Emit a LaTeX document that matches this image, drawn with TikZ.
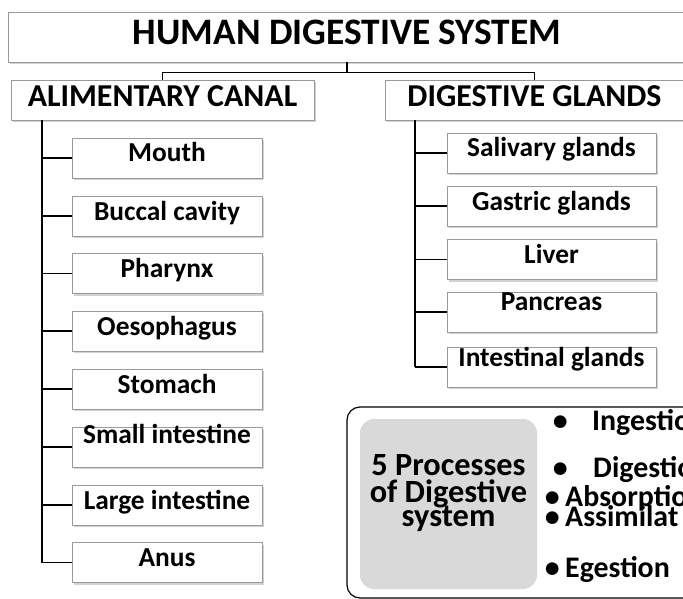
\documentclass[tikz,border=0pt]{standalone}
\usepackage{fontspec}
\setmainfont{Carlito}
\usetikzlibrary{shadows}
\definecolor{procgray}{HTML}{D9D9D9}
\definecolor{boxline}{HTML}{9A9A9A}
\begin{document}
\begin{tikzpicture}[x=1bp,y=-1bp,
  box/.style={draw=boxline, fill=white, line width=0.9bp, inner sep=0pt,
    drop shadow={shadow xshift=1.8bp, shadow yshift=-2.2bp, fill=black!35}},
  titlebox/.style={box, minimum width=678bp, minimum height=50bp,
    font=\fontsize{37.5}{40}\selectfont\bfseries, text height=24bp, text depth=8bp},
  headbox/.style={box, minimum height=40bp,
    font=\fontsize{32}{34}\selectfont\bfseries, text height=20bp, text depth=6bp},
  itembox/.style={box, minimum height=40bp,
    font=\fontsize{27.5}{30}\selectfont\bfseries, text height=18bp, text depth=10bp},
  leftitem/.style={itembox, minimum width=190bp},
  rightitem/.style={itembox, minimum width=209bp},
  conn/.style={line width=1.6bp, black},
  spine/.style={line width=2.6bp, black},
  proctext/.style={font=\fontsize{32.5}{34}\selectfont\bfseries, inner sep=0pt, anchor=base},
  bullettext/.style={font=\fontsize{30}{34}\selectfont\bfseries, inner sep=0pt, anchor=base west}
]
\useasboundingbox (0,0) rectangle (683,599);
\fill[white] (0,0) rectangle (683,599);

% title and headers
\node[titlebox] (title) at (347,37) {HUMAN DIGESTIVE SYSTEM};
\node[headbox, minimum width=303bp] (ali) at (162.5,100) {ALIMENTARY CANAL};
\node[headbox, minimum width=299bp] (dig) at (534.5,100) {DIGESTIVE GLANDS};

\draw[conn] (title.south) -- ++(0,10) coordinate (tj);
\draw[conn] (tj) -| (ali.north);
\draw[conn] (tj) -| (dig.north);

% alimentary canal items
\node[leftitem] (mouth) at (167,158) {Mouth};
\node[leftitem] (buccal) at (167,216) {Buccal cavity};
\node[leftitem] (pharynx) at (167,273.5) {Pharynx};
\node[leftitem] (oeso) at (167,331) {Oesophagus};
\node[leftitem] (stomach) at (167,389) {Stomach};
\node[leftitem] (small) at (167,447) {\raisebox{8bp}{Small intestine}};
\node[leftitem] (large) at (167,505) {Large intestine};
\node[leftitem] (anus) at (167,562.5) {Anus};

\coordinate (lv) at (42,120);
\draw[spine] (lv) -- (lv |- anus.west);
\foreach \n in {mouth,buccal,pharynx,oeso,stomach,small,large,anus}
  \draw[conn] (lv |- \n.west) -- (\n.west);

% digestive glands items
\node[rightitem] (saliv) at (551.5,153) {Salivary glands};
\node[rightitem] (gastric) at (551.5,206) {Gastric glands};
\node[rightitem] (liver) at (551.5,259.5) {Liver};
\node[rightitem] (pancreas) at (551.5,312) {\raisebox{6bp}{Pancreas}};
\node[rightitem] (intg) at (551.5,367) {\raisebox{5bp}{Intestinal glands}};

\coordinate (rv) at (415,120);
\draw[spine] (rv) -- (rv |- intg.west);
\foreach \n in {saliv,gastric,liver,pancreas,intg}
  \draw[conn] (rv |- \n.west) -- (\n.west);

% processes panel
\draw[line width=1.2bp, rounded corners=13bp] (700,407) -- (347,407) -- (347,598) -- (700,598);
\node[fill=procgray, rounded corners=14bp, minimum width=177bp, minimum height=170bp, inner sep=0pt] (proc) at (448.5,504) {};
\node[proctext] (pl1) at (448.5,475) {5 Processes};
\node[proctext] (pl2) at (448.5,502) {of Digestive};
\node[proctext] (pl3) at (448.5,526) {system};

\node[bullettext] (b1) at (592,430) {\llap{\makebox[64bp][c]{•}}Ingestio};
\node[bullettext] (b2) at (593,477) {\llap{\makebox[66bp][c]{•}}Digestio};
\node[bullettext] (b3) at (565,506) {\llap{\makebox[26bp][c]{•}}Absorptio};
\node[bullettext] (b4) at (565,526) {\llap{\makebox[26bp][c]{•}}Assimilat};
\node[bullettext] (b5) at (565,577) {\llap{\makebox[26bp][c]{•}}Egestion};
\end{tikzpicture}
\end{document}
